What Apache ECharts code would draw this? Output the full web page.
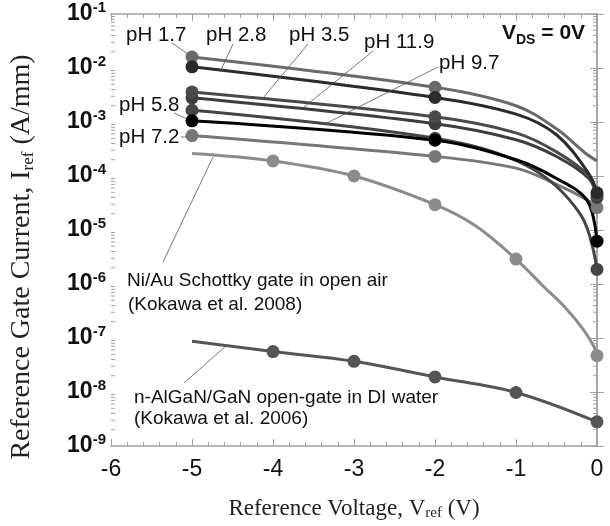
<!DOCTYPE html>
<html>
<head>
<meta charset="utf-8">
<script src="https://cdn.jsdelivr.net/npm/echarts@6/dist/echarts.min.js"></script>
<style>
  html, body { margin: 0; padding: 0; background: #fff; }
  #main { width: 610px; height: 526px; }
</style>
</head>
<body>
<div id="main"></div>
<script>
// curves: voltage (V) and gate current (A/mm)
const ph17V = [-5, -2, -1, -0.5, -0.15, 0];
const ph17I = [1.6e-2, 4.4e-3, 2.0e-3, 7.5e-4, 2.7e-4, 1.9e-4];
const ph28V = [-5, -2, -1, -0.5, -0.1, 0];
const ph28I = [1.05e-2, 2.85e-3, 1.4e-3, 5.8e-4, 1.1e-4, 4.9e-5];
const ph35V = [-5, -2, -1, -0.5, -0.1, 0];
const ph35I = [3.6e-3, 1.25e-3, 6.3e-4, 2.8e-4, 1.0e-4, 4.5e-5];
const ph119V = [-5, -2, -1, -0.5, -0.1, 0];
const ph119I = [2.8e-3, 9.3e-4, 4.7e-4, 2.3e-4, 9.0e-5, 4.0e-5];
const ph97V = [-5, -2, -0.85, -0.2, 0];
const ph97I = [1.65e-3, 5.0e-4, 1.5e-4, 1.9e-5, 1.86e-6];
const ph58V = [-5, -2, -1, -0.5, -0.12, 0];
const ph58I = [1.05e-3, 4.6e-4, 2.0e-4, 9.0e-5, 3.5e-5, 6.2e-6];
const ph72V = [-5, -2, -1, -0.5, -0.12, 0];
const ph72I = [5.6e-4, 2.3e-4, 1.4e-4, 7.0e-5, 3.6e-5, 2.6e-5];
const phMarkV = [-5, -2, 0];

const niauV = [-5, -4, -3, -2, -1.5, -1, -0.66, -0.41, -0.17, -0.04, 0];
const niauI = [2.6e-4, 1.9e-4, 1.0e-4, 2.95e-5, 1.2e-5, 2.9e-6, 9.0e-7, 3.9e-7, 1.45e-7, 7.0e-8, 4.7e-8];
const alganV = [-5, -4, -3, -2, -1, 0];
const alganI = [8.7e-8, 5.6e-8, 3.7e-8, 1.9e-8, 9.8e-9, 2.8e-9];
const refMarkV = [-4, -3, -2, -1, 0];

const minorY = [];
[-9, -8, -7, -6, -5, -4, -3, -2].forEach(function (e) {
  for (let m = 2; m <= 9; m++) minorY.push([m * Math.pow(10, e)]);
});

let chart = echarts.init(document.getElementById('main'));

function curve(name, xs, ys, marks, color, noMarkAt) {
  return {
    name: name,
    type: 'line',
    smooth: 0.35,
    showAllSymbol: true,
    symbol: 'circle',
    lineStyle: { color: color, width: 3 },
    itemStyle: { color: color },
    data: xs.map(function (x, i) {
      let on = marks.indexOf(x) >= 0 && x !== noMarkAt;
      return { value: [x, ys[i]], symbolSize: on ? 13 : 0 };
    }),
    z: 3
  };
}

const sans = '"Liberation Sans", Arial, sans-serif';
const serif = '"Liberation Serif", "Times New Roman", serif';

function label(text, x, y, size) {
  return { type: 'text', x: x, y: y, style: { text: text, font: (size || 19) + 'px ' + sans, fill: '#111', verticalAlign: 'middle' }, z: 10 };
}
function pointer(x1, y1, x2, y2) {
  return { type: 'line', shape: { x1: x1, y1: y1, x2: x2, y2: y2 }, style: { stroke: '#555', lineWidth: 0.8 }, z: 10 };
}

let option = {
  backgroundColor: '#fff',
  animation: false,
  grid: { left: 111, top: 14, width: 486, height: 433 },
  xAxis: [
    {
      type: 'value', min: -6, max: 0, interval: 1,
      axisLine: { lineStyle: { color: '#a0a0a0', width: 1.5 } },
      axisTick: { inside: true, length: 7, lineStyle: { color: '#a0a0a0' } },
      minorTick: { show: true, splitNumber: 5, length: 4, lineStyle: { color: '#a0a0a0' } },
      splitLine: { show: false },
      axisLabel: { fontFamily: sans, fontSize: 23, color: '#111', margin: 12 },
      name: 'Reference Voltage, V{s|ref} (V)',
      nameLocation: 'middle', nameGap: 50,
      nameTextStyle: {
        fontFamily: serif, fontSize: 23, color: '#222',
        rich: { s: { fontFamily: serif, fontSize: 15, color: '#222', padding: [10, 0, 0, 0] } }
      }
    },
    {
      type: 'value', position: 'top', min: -6, max: 0, interval: 1,
      axisLine: { lineStyle: { color: '#a0a0a0', width: 1.5 } },
      axisTick: { inside: true, length: 7, lineStyle: { color: '#a0a0a0' } },
      minorTick: { show: true, splitNumber: 5, length: 4, lineStyle: { color: '#a0a0a0' } },
      splitLine: { show: false },
      axisLabel: { show: false }
    }
  ],
  yAxis: [
    {
      type: 'log', logBase: 10, min: 1e-9, max: 1e-1, splitNumber: 8,
      axisLine: { lineStyle: { color: '#a0a0a0', width: 1.5 } },
      axisTick: { inside: true, length: 7, lineStyle: { color: '#a0a0a0' } },
      splitLine: { show: false },
      axisLabel: {
        margin: 5,
        formatter: function (v) {
          return '{b|10}{s|' + Math.round(Math.log10(v)) + '}';
        },
        rich: {
          b: { fontFamily: sans, fontWeight: 'bold', fontSize: 23, color: '#111' },
          s: { fontFamily: sans, fontWeight: 'bold', fontSize: 15, color: '#111', padding: [0, 0, 13, 0] }
        }
      }
    },
    {
      type: 'log', logBase: 10, min: 1e-9, max: 1e-1, splitNumber: 8, position: 'right',
      axisLine: { lineStyle: { color: '#a0a0a0', width: 1.5 } },
      axisTick: { inside: true, length: 7, lineStyle: { color: '#a0a0a0' } },
      splitLine: { show: false },
      axisLabel: { show: false }
    }
  ],
  series: [
    {
      // log minor ticks on left and right frame
      type: 'custom',
      silent: true,
      data: minorY,
      renderItem: function (params, api) {
        let v = api.value(0);
        let l = api.coord([-6, v]);
        let r = api.coord([0, v]);
        return {
          type: 'group',
          children: [
            { type: 'line', shape: { x1: l[0], y1: l[1], x2: l[0] + 4, y2: l[1] }, style: { stroke: '#a0a0a0', lineWidth: 1 } },
            { type: 'line', shape: { x1: r[0], y1: r[1], x2: r[0] - 4, y2: r[1] }, style: { stroke: '#a0a0a0', lineWidth: 1 } }
          ]
        };
      },
      z: 1
    },
    curve('Ni/Au', niauV, niauI, refMarkV, '#8c8c8c'),
    curve('n-AlGaN', alganV, alganI, refMarkV, '#555555'),
    curve('pH 7.2', ph72V, ph72I, phMarkV, '#777777'),
    curve('pH 9.7', ph97V, ph97I, phMarkV, '#454545'),
    curve('pH 11.9', ph119V, ph119I, phMarkV, '#3d3d3d'),
    curve('pH 3.5', ph35V, ph35I, phMarkV, '#4a4a4a'),
    curve('pH 1.7', ph17V, ph17I, phMarkV, '#6a6a6a', 0),
    curve('pH 2.8', ph28V, ph28I, phMarkV, '#2b2b2b'),
    curve('pH 5.8', ph58V, ph58I, phMarkV, '#000000')
  ],
  graphic: [
    {
      type: 'text', x: 22, y: 257, rotation: Math.PI / 2,
      style: {
        text: '{a|Reference Gate Current, I}{s|ref}{a| (A/mm)}',
        align: 'center', verticalAlign: 'middle',
        rich: {
          a: { fontFamily: serif, fontSize: 28, fill: '#222', color: '#222' },
          s: { fontFamily: serif, fontSize: 17, fill: '#222', color: '#222', padding: [14, 0, 0, 0] }
        }
      }
    },
    label('pH 1.7', 126, 35, 20.5),
    label('pH 2.8', 206, 35, 20.5),
    label('pH 3.5', 289, 35, 20.5),
    label('pH 11.9', 364, 42, 20.5),
    label('pH 9.7', 439, 63, 20.5),
    label('pH 5.8', 119, 105, 20.5),
    label('pH 7.2', 119, 137, 20.5),
    pointer(172, 43, 188, 54),
    pointer(233, 44, 220, 72),
    pointer(308, 44, 263, 98),
    pointer(373, 51, 303, 108),
    pointer(438, 67, 325, 124),
    pointer(174, 113, 187, 119),
    pointer(181, 137, 188, 137),
    {
      type: 'text', x: 502, y: 33,
      style: {
        text: '{v|V}{d|DS}{v| = 0V}', verticalAlign: 'middle',
        rich: {
          v: { fontFamily: sans, fontWeight: 'bold', fontSize: 21, fill: '#111', color: '#111' },
          d: { fontFamily: sans, fontWeight: 'bold', fontSize: 14, fill: '#111', color: '#111', padding: [14, 0, 0, 0] }
        }
      },
      z: 10
    },
    label('Ni/Au Schottky gate in open air', 127, 281),
    label('(Kokawa et al. 2008)', 128, 305),
    pointer(163, 262, 213, 157),
    label('n-AlGaN/GaN open-gate in DI water', 134, 398),
    label('(Kokawa et al. 2006)', 134, 419),
    pointer(184, 383, 227, 345)
  ]
};

chart.setOption(option);
</script>
</body>
</html>
